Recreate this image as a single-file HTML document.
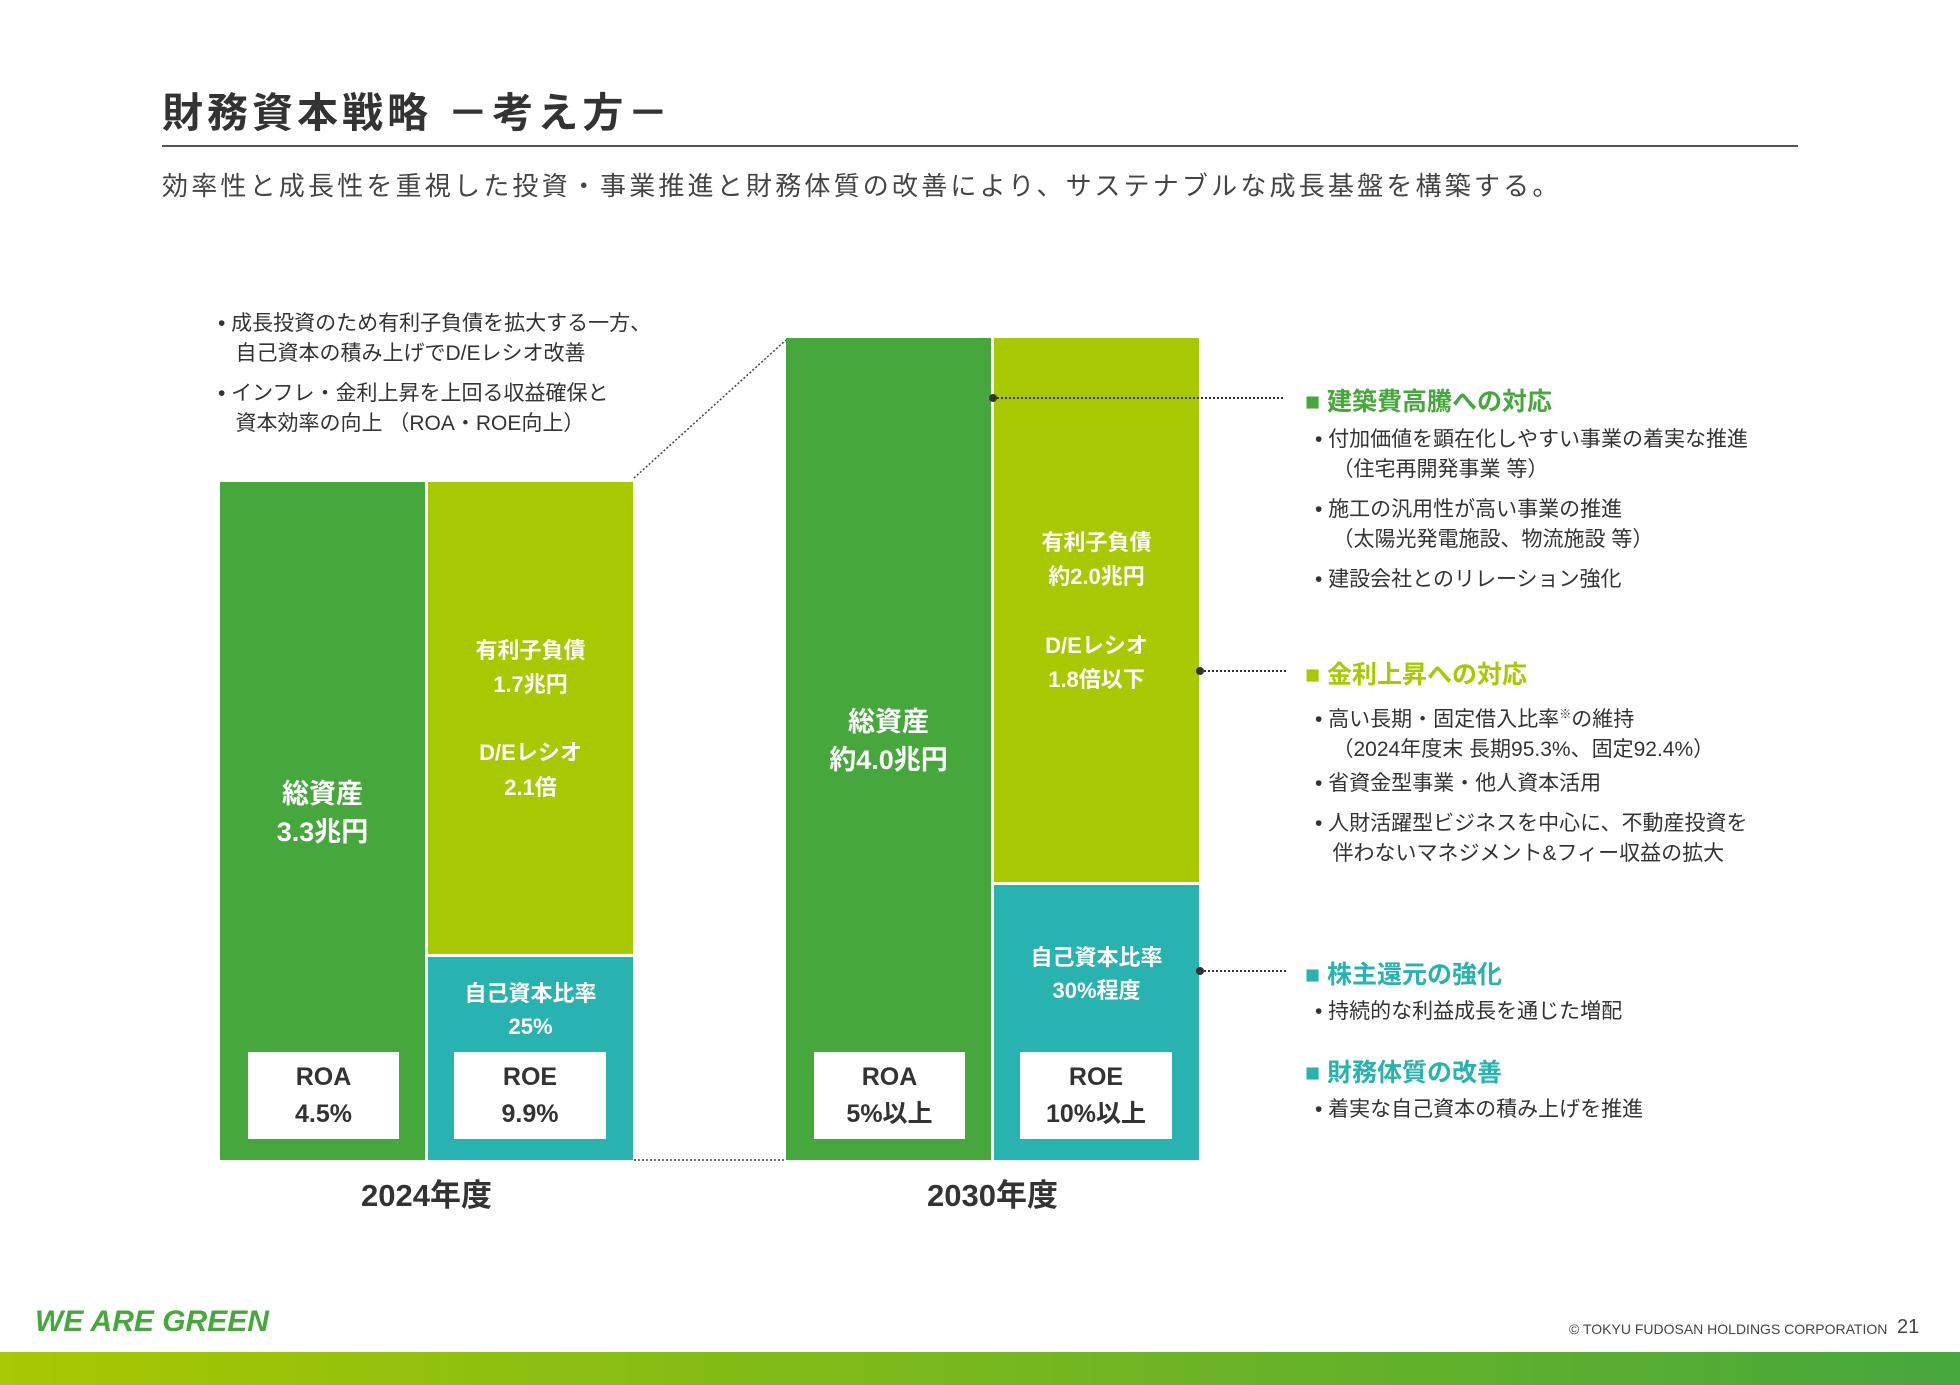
<!DOCTYPE html>
<html><head><meta charset="utf-8">
<style>
body{margin:0;width:1960px;height:1385px;position:relative;background:#fff;overflow:hidden;font-family:"Liberation Sans","Noto Sans CJK JP",sans-serif;color:#333}
.a{position:absolute;white-space:nowrap}
.bl{font-size:21px;color:#333;line-height:30px}
.bar{position:absolute}
.bt{position:absolute;color:#fff;font-weight:bold;text-align:center;width:100%;line-height:1.4}
.box{position:absolute;background:#fff;text-align:center;font-weight:bold;font-size:25px;color:#333;line-height:37px;padding-top:7px;box-sizing:border-box}
.h{font-size:25px;font-weight:bold}
</style></head><body>
<div class="a" style="left:162px;top:79px;font-size:41px;font-weight:bold;letter-spacing:4px;color:#333">財務資本戦略 －考え方－</div>
<div class="a" style="left:162px;top:145px;width:1636px;height:2px;background:#555"></div>
<div class="a" style="left:162px;top:166px;font-size:26px;letter-spacing:3.2px;color:#444">効率性と成長性を重視した投資・事業推進と財務体質の改善により、サステナブルな成長基盤を構築する。</div>

<div class="a bl" style="left:218px;top:309px">• 成長投資のため有利子負債を拡大する一方、<br>&nbsp;&nbsp;&nbsp;自己資本の積み上げでD/Eレシオ改善</div>
<div class="a bl" style="left:218px;top:379px">• インフレ・金利上昇を上回る収益確保と<br>&nbsp;&nbsp;&nbsp;資本効率の向上 （ROA・ROE向上）</div>

<div id="chart"></div>

<svg class="a" style="left:0;top:0" width="1960" height="1385">
<line x1="634" y1="478" x2="786" y2="340" stroke="#444" stroke-width="1.5" stroke-dasharray="2,2"/>
<line x1="634" y1="1160" x2="786" y2="1160" stroke="#444" stroke-width="1.5" stroke-dasharray="2,2"/>
<line x1="993" y1="398" x2="1285" y2="398" stroke="#333" stroke-width="2" stroke-dasharray="2,2"/><circle cx="993" cy="398" r="4" fill="#333"/>
<line x1="1200" y1="671" x2="1287" y2="671" stroke="#333" stroke-width="2" stroke-dasharray="2,2"/><circle cx="1200" cy="671" r="4" fill="#333"/>
<line x1="1200" y1="971" x2="1287" y2="971" stroke="#333" stroke-width="2" stroke-dasharray="2,2"/><circle cx="1200" cy="971" r="4" fill="#333"/>
</svg>

<div class="a h" style="left:1305px;top:382px;color:#46a83c">■ 建築費高騰への対応</div>
<div class="a bl" style="left:1315px;top:425px">• 付加価値を顕在化しやすい事業の着実な推進<br>&nbsp;&nbsp;&nbsp;（住宅再開発事業 等）</div>
<div class="a bl" style="left:1315px;top:495px">• 施工の汎用性が高い事業の推進<br>&nbsp;&nbsp;&nbsp;（太陽光発電施設、物流施設 等）</div>
<div class="a bl" style="left:1315px;top:565px">• 建設会社とのリレーション強化</div>

<div class="a h" style="left:1305px;top:655px;color:#a8c800">■ 金利上昇への対応</div>
<div class="a bl" style="left:1315px;top:699px">• 高い長期・固定借入比率<sup style="font-size:12px">※</sup>の維持<br>&nbsp;&nbsp;&nbsp;（2024年度末 長期95.3%、固定92.4%）</div>
<div class="a bl" style="left:1315px;top:769px">• 省資金型事業・他人資本活用</div>
<div class="a bl" style="left:1315px;top:809px">• 人財活躍型ビジネスを中心に、不動産投資を<br>&nbsp;&nbsp;&nbsp;伴わないマネジメント&フィー収益の拡大</div>

<div class="a h" style="left:1305px;top:955px;color:#28b3b0">■ 株主還元の強化</div>
<div class="a bl" style="left:1315px;top:997px">• 持続的な利益成長を通じた増配</div>
<div class="a h" style="left:1305px;top:1053px;color:#28b3b0">■ 財務体質の改善</div>
<div class="a bl" style="left:1315px;top:1095px">• 着実な自己資本の積み上げを推進</div>

<div class="a" style="left:35px;top:1305px;font-size:30px;font-style:italic;font-weight:bold;color:#46a83c">WE ARE GREEN</div>
<div class="a" style="left:1569px;top:1321px;font-size:14px;color:#444">© TOKYU FUDOSAN HOLDINGS CORPORATION</div>
<div class="a" style="left:1897px;top:1316px;font-size:20px;color:#444">21</div>
<div class="a" style="left:0;top:1352px;width:1960px;height:33px;background:linear-gradient(90deg,#a8c800,#46a83c)"></div>

<script>
const years=["2024年度","2030年度"];
const totalAssets=[3.3,4.0];
const equityPart=[0.99,1.34];
const assetLabels=["総資産<br>3.3兆円","総資産<br>約4.0兆円"];
const debtLabels=["有利子負債<br>1.7兆円<br><br>D/Eレシオ<br>2.1倍","有利子負債<br>約2.0兆円<br><br>D/Eレシオ<br>1.8倍以下"];
const equityLabels=["自己資本比率<br>25%","自己資本比率<br>30%程度"];
const roa=["4.5%","5%以上"];
const roe=["9.9%","10%以上"];
const base=1160, k=205.5, xs=[220,786], bw=205, gap=3;
const y=v=>base-v*k;
const c=document.getElementById('chart');
function mk(css,html){const d=document.createElement('div');d.className=css[0];d.style.cssText=css[1];if(html)d.innerHTML=html;c.appendChild(d);return d;}
years.forEach((yr,i)=>{
 const x=xs[i], top=y(totalAssets[i]), mid=y(equityPart[i]);
 const a=mk(['bar',`left:${x}px;top:${top}px;width:${bw}px;height:${base-top}px;background:#46a83c`]);
 
 
 const at=mk(['bt',`left:${x}px;width:${bw}px;top:${top+(base-top)/2-45}px;font-size:27px`],assetLabels[i]);
 
 
 const d=mk(['bar',`left:${x+bw+gap}px;top:${top}px;width:${bw}px;height:${mid-top-gap}px;background:#a8c800`]);
 
 
 const dt=mk(['bt',`left:${x+bw+gap}px;width:${bw}px;top:${top+(mid-top)/2-85}px;font-size:22px;line-height:1.55`],debtLabels[i]);
 
 
 const e=mk(['bar',`left:${x+bw+gap}px;top:${mid}px;width:${bw}px;height:${base-mid}px;background:#28b3b0`]);
 
 
 const et=mk(['bt',`left:${x+bw+gap}px;width:${bw}px;top:${mid+(i?56:20)}px;font-size:22px;line-height:1.5`],equityLabels[i]);
 
 
 const r1=mk(['box',`left:${x+28}px;top:1052px;width:151px;height:87px`],'ROA<br>'+roa[i]);
 
 
 const r2=mk(['box',`left:${x+bw+gap+26}px;top:1052px;width:152px;height:87px`],'ROE<br>'+roe[i]);
 
 
 const yl=mk(['bt',`left:${x}px;width:${2*bw+gap}px;top:1174px;font-size:31px;color:#333`],yr);
 
 
});
</script>
</body></html>
